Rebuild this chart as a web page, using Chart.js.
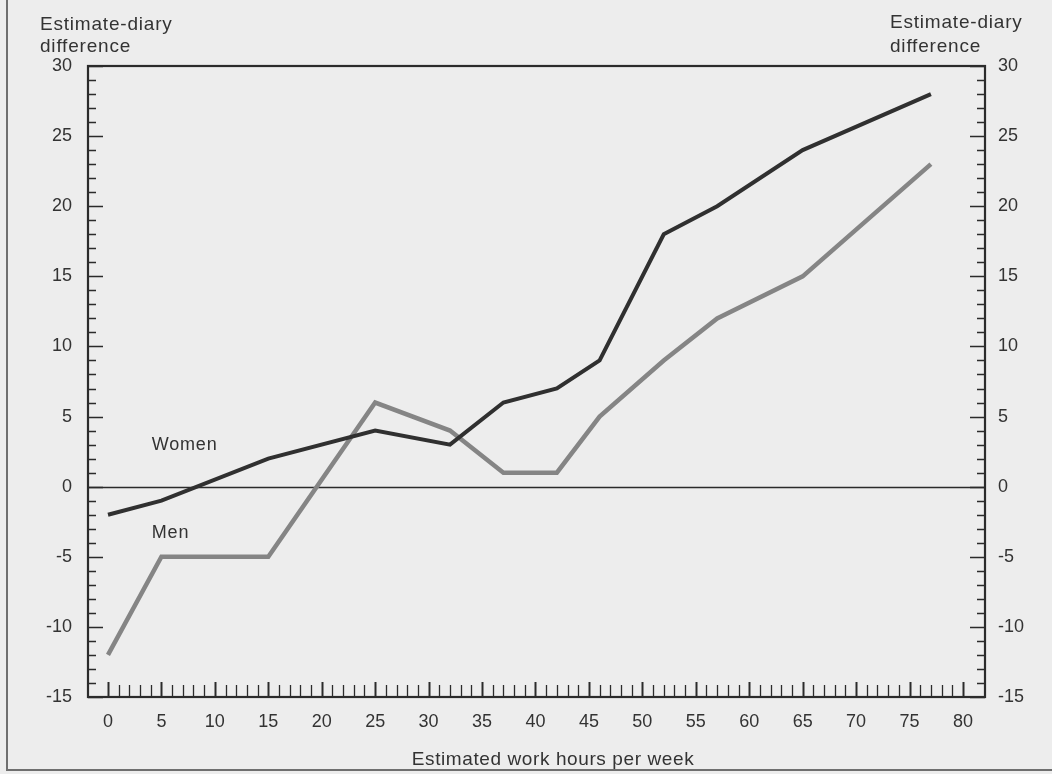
<!DOCTYPE html>
<html>
<head>
<meta charset="utf-8">
<script src="https://cdn.jsdelivr.net/npm/chart.js@4.4.1/dist/chart.umd.min.js"></script>
<style>
  html, body { margin: 0; padding: 0; background: #ededed; }
  #wrap { position: relative; width: 1052px; height: 774px; }
</style>
</head>
<body>
<div id="wrap"><canvas id="chart" width="1052" height="774"></canvas></div>
<script>
'use strict'

// estimated weekly hours and the estimate minus diary difference
const hours = [0, 5, 15, 25, 32, 37, 42, 46, 52, 57, 65, 77]
const women = [-2, -1, 2, 4, 3, 6, 7, 9, 18, 20, 24, 28]
const men = [-12, -5, -5, 6, 4, 1, 1, 5, 9, 12, 15, 23]

const hourTicks = [0, 5, 10, 15, 20, 25, 30, 35, 40, 45, 50, 55, 60, 65, 70, 75, 80]
const diffTicks = [-15, -10, -5, 0, 5, 10, 15, 20, 25, 30]

const INK = '#333333'
const FONT = 'Liberation Sans, Arial, sans-serif'

const CHART = document.querySelector('#chart').getContext('2d')

function points(ys) {
    return hours.map((h, i) => ({ x: h, y: ys[i] }))
}

function setTicks(list) {
    return function (scale) {
        scale.ticks = list.map(v => ({ value: v }))
    }
}

// frame, zero line and the small inward tick marks
const framePlugin = {
    id: 'frame',
    beforeDatasetsDraw(chart) {
        const ctx = chart.ctx
        const a = chart.chartArea
        const x = chart.scales.x
        const y = chart.scales.y
        ctx.save()
        ctx.strokeStyle = '#2b2b2b'
        ctx.lineCap = 'butt'

        ctx.lineWidth = 1.6
        const y0 = Math.round(y.getPixelForValue(0)) + 0.5
        ctx.beginPath()
        ctx.moveTo(a.left, y0)
        ctx.lineTo(a.right, y0)
        ctx.stroke()

        for (let v = -15; v <= 30; v++) {
            const py = Math.round(y.getPixelForValue(v)) + 0.5
            const len = v % 5 === 0 ? 15 : 8
            ctx.lineWidth = 1.4
            ctx.beginPath()
            ctx.moveTo(a.left, py)
            ctx.lineTo(a.left + len, py)
            ctx.moveTo(a.right, py)
            ctx.lineTo(a.right - len, py)
            ctx.stroke()
        }
        for (let v = 0; v <= 80; v++) {
            const px = Math.round(x.getPixelForValue(v)) + 0.5
            const major = v % 5 === 0
            ctx.lineWidth = major ? 2 : 1.3
            ctx.beginPath()
            ctx.moveTo(px, a.bottom)
            ctx.lineTo(px, a.bottom - (major ? 15 : 12))
            ctx.stroke()
        }

        ctx.lineWidth = 2.2
        ctx.strokeRect(a.left, a.top, a.right - a.left, a.bottom - a.top)
        ctx.restore()
    },
    afterDraw(chart) {
        const ctx = chart.ctx
        const x = chart.scales.x
        const y = chart.scales.y
        ctx.save()
        ctx.fillStyle = INK
        ctx.textBaseline = 'middle'
        ctx.textAlign = 'left'
        ctx.font = '19px ' + FONT
        ctx.letterSpacing = '0.8px'
        ctx.fillText('Estimate-diary', 40, 25)
        ctx.fillText('difference', 40, 47)
        ctx.fillText('Estimate-diary', 890, 23)
        ctx.fillText('difference', 890, 47)

        ctx.font = '18px ' + FONT
        ctx.fillText('Women', x.getPixelForValue(4.1), y.getPixelForValue(3))
        ctx.fillText('Men', x.getPixelForValue(4.1), y.getPixelForValue(-3.3))

        ctx.textAlign = 'center'
        ctx.font = '19px ' + FONT
        ctx.letterSpacing = '0.6px'
        ctx.fillText('Estimated work hours per week', 553, 760)

        // page edge lines
        ctx.strokeStyle = '#6f6f6f'
        ctx.lineWidth = 2
        ctx.beginPath()
        ctx.moveTo(7, 0)
        ctx.lineTo(7, 770)
        ctx.lineTo(1052, 770)
        ctx.stroke()
        ctx.restore()
    }
}

const tickFont = { family: FONT, size: 18 }

const diffChart = new Chart(CHART, {
    type: 'line',
    data: {
        datasets: [
            {
                label: 'Women',
                data: points(women),
                borderColor: '#303030',
                borderWidth: 4,
                pointRadius: 0,
                tension: 0
            },
            {
                label: 'Men',
                data: points(men),
                borderColor: '#858585',
                borderWidth: 4.5,
                pointRadius: 0,
                tension: 0
            },
            {
                label: 'Men texture',
                data: points(men),
                borderColor: '#d8d8d8',
                borderWidth: 1.8,
                borderDash: [1.5, 1.5],
                pointRadius: 0,
                tension: 0
            }
        ]
    },
    options: {
        responsive: false,
        animation: false,
        devicePixelRatio: 1,
        layout: { padding: { top: 66, left: 0, right: 0, bottom: 0 } },
        plugins: {
            legend: { display: false },
            tooltip: { enabled: false }
        },
        scales: {
            x: {
                type: 'linear',
                position: 'bottom',
                min: -1.87,
                max: 82.06,
                grid: { display: false, drawTicks: false },
                border: { display: false },
                ticks: { color: INK, font: tickFont, padding: 14, maxRotation: 0 },
                afterBuildTicks: setTicks(hourTicks),
                afterFit(scale) { scale.height = 77 }
            },
            y: {
                position: 'left',
                min: -15,
                max: 30,
                grid: { display: false, drawTicks: false },
                border: { display: false },
                ticks: { color: INK, font: tickFont, padding: 16 },
                afterBuildTicks: setTicks(diffTicks),
                afterFit(scale) { scale.width = 88 }
            },
            y2: {
                position: 'right',
                min: -15,
                max: 30,
                grid: { display: false, drawTicks: false },
                border: { display: false },
                ticks: { color: INK, font: tickFont, padding: 13 },
                afterBuildTicks: setTicks(diffTicks),
                afterFit(scale) { scale.width = 67 }
            }
        }
    },
    plugins: [framePlugin]
})
</script>
</body>
</html>
